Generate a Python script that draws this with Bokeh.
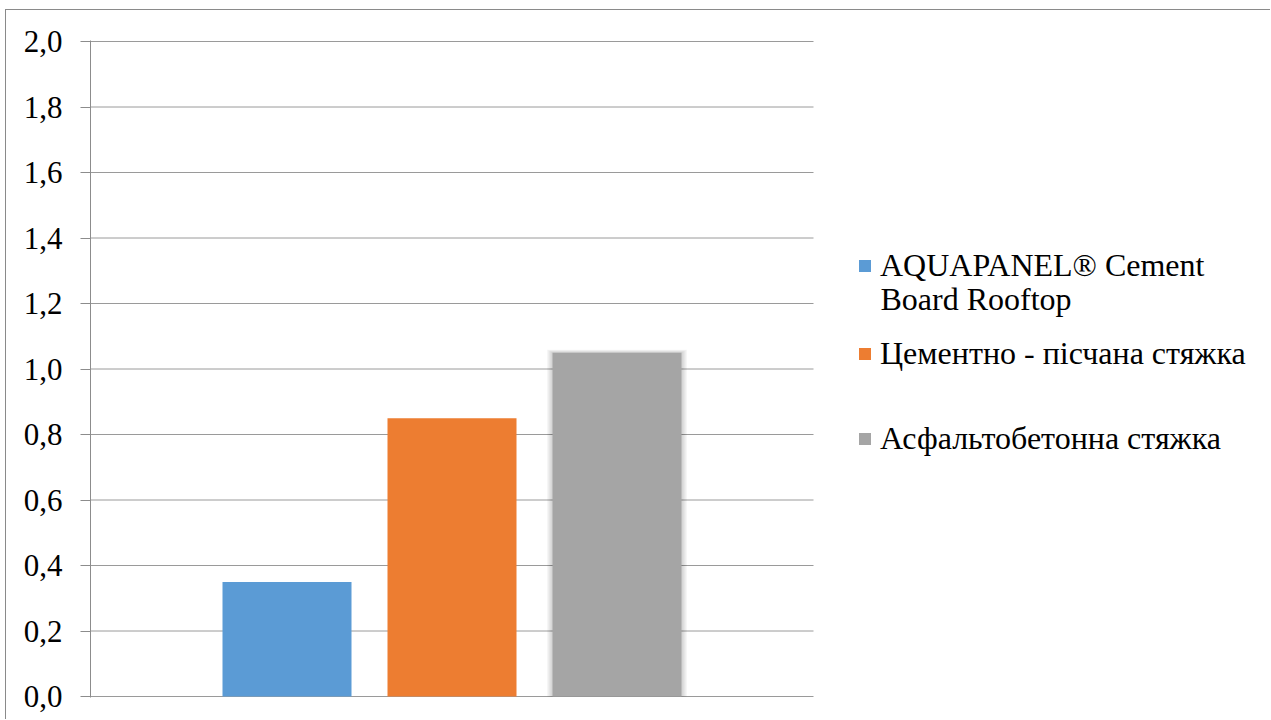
from bokeh.plotting import figure
from bokeh.models import (Range1d, FixedTicker, CustomJSTickFormatter, Legend, LegendItem,
                          Label)
from bokeh.embed import file_html
from bokeh.resources import INLINE

# ---- data ----
series = ["AQUAPANEL® Cement", "Цементно - пісчана стяжка", "Асфальтобетонна стяжка"]
series_cont = ["Board Rooftop", "", ""]
values = [0.35, 0.85, 1.05]
colors = ["#5B9BD5", "#ED7D31", "#A5A5A5"]
y_ticks = [0.0, 0.2, 0.4, 0.6, 0.8, 1.0, 1.2, 1.4, 1.6, 1.8, 2.0]

FONT = "Tinos, Liberation Serif, Times New Roman, DejaVu Serif, serif"
TICK_FS = "31px"
LEG_FS = "32px"

# layout (pixels)
W, H = 1265, 710            # figure size (page offset 6, 10 incl. border)
LEFT, TOP, BOTTOM = 84, 30, 23
slot_px = 165.0
bar_px = 129.0
plot_w = 723.0
frame_w = W - LEFT
frame_h = H - TOP - BOTTOM
pad = (2.0 / (frame_h - 2))  # 1px padding so the 0 and 2.0 lines show

xs = list(range(len(values)))
center = (xs[0] + xs[-1]) / 2.0
x0 = center - plot_w / slot_px / 2.0
x1 = center + plot_w / slot_px / 2.0

p = figure(width=W, height=H, output_backend="svg", toolbar_location=None,
           x_range=Range1d(x0, x0 + frame_w / slot_px),
           y_range=Range1d(-pad, 2.0 + pad),
           x_axis_location=None, min_border_left=LEFT, min_border_right=0,
           min_border_top=TOP, min_border_bottom=BOTTOM,
           background_fill_color="white", border_fill_color="white")
p.outline_line_color = None
p.styles = {"margin-left": "5px", "margin-top": "9px",
            "border-left": "1px solid #8a8a8a", "border-top": "1px solid #8a8a8a"}

# y axis
ax = p.yaxis[0]
ax.ticker = FixedTicker(ticks=y_ticks)
ax.formatter = CustomJSTickFormatter(code="return tick.toFixed(1).replace('.', ',');")
ax.major_label_text_font = FONT
ax.major_label_text_font_size = TICK_FS
ax.major_label_text_color = "#000000"
ax.major_label_standoff = 18
ax.major_tick_out = 10
ax.major_tick_in = 0
ax.minor_tick_out = 0
ax.minor_tick_in = 0
ax.axis_line_color = "#8c8c8c"
ax.major_tick_line_color = "#8c8c8c"

p.xgrid.visible = False
p.ygrid.visible = False
# horizontal gridlines limited to the plot area
p.segment(x0=[x0] * len(y_ticks), x1=[x1] * len(y_ticks), y0=y_ticks, y1=y_ticks,
          line_color="#9a9a9a", line_width=1)

# soft shadow for the gray bar
gi = 2
for k in range(1, 6):
    p.vbar(x=[xs[gi]], top=[values[gi] + k * 0.6 / 327.5], bottom=0,
           width=(bar_px + 2.2 * k) / slot_px, fill_color="black", fill_alpha=0.035,
           line_color=None)

renderers = []
for i in range(len(values)):
    r = p.vbar(x=[xs[i]], top=[values[i]], bottom=0, width=bar_px / slot_px,
               fill_color=colors[i], line_color=None)
    renderers.append(r)

# legends (one per entry, to the right of the plot area)
leg_pos = [(767, 413), (767, 325), (767, 240)]
for i in range(len(values)):
    lg = Legend(items=[LegendItem(label=series[i], renderers=[renderers[i]])],
                location=leg_pos[i], glyph_width=15, glyph_height=15, label_standoff=8,
                padding=0, margin=0, spacing=0, border_line_color=None,
                background_fill_alpha=0, label_text_font=FONT, label_text_font_size=LEG_FS,
                label_text_color="#000000", label_text_line_height=1.03)
    p.add_layout(lg, "center")
    if series_cont[i]:
        p.add_layout(Label(x=790, y=399, x_units="screen", y_units="screen",
                           text=series_cont[i], text_font=FONT, text_font_size=LEG_FS,
                           text_color="#000000", text_baseline="middle",
                           text_align="left"))

open("out.html", "w").write(file_html(p, INLINE))
